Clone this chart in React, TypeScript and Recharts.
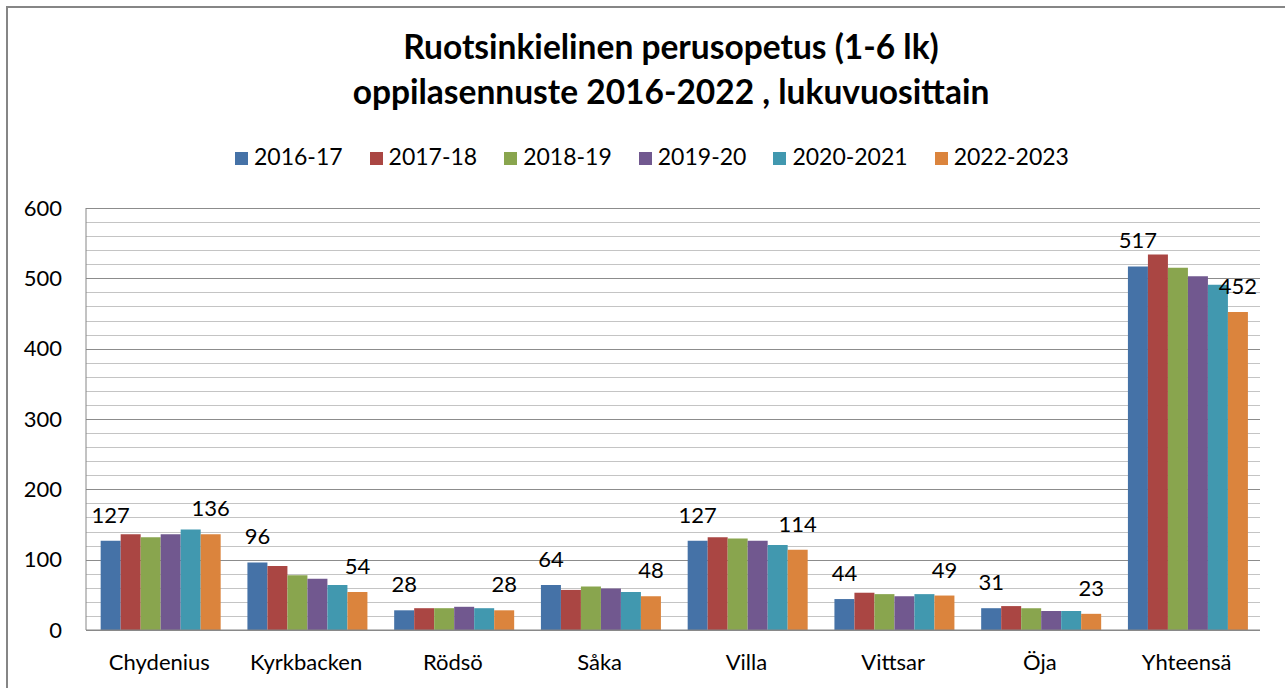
import { BarChart, Bar, XAxis, YAxis, CartesianGrid, Legend, LabelList } from "recharts"

const schools = ["Chydenius", "Kyrkbacken", "Rödsö", "Såka", "Villa", "Vittsar", "Öja", "Yhteensä"]
const y2016 = [127, 96, 28, 64, 127, 44, 31, 517]
const y2017 = [136, 91, 31, 57, 132, 53, 34, 534]
const y2018 = [132, 78, 31, 62, 130, 51, 31, 515]
const y2019 = [136, 73, 33, 59, 127, 48, 27, 503]
const y2020 = [143, 64, 31, 54, 121, 51, 27, 491]
const y2022 = [136, 54, 28, 48, 114, 49, 23, 452]
const seriesNames = ["2016-17", "2017-18", "2018-19", "2019-20", "2020-2021", "2022-2023"]
const yTicks = [0, 100, 200, 300, 400, 500, 600]

const colors = ["#4572A7", "#AA4643", "#89A54E", "#71588F", "#4198AF", "#DB843D"]
const font = "Lato, 'Open Sans', sans-serif"

// minor gridlines every 20, major ones on the tick values
const minorValues = Array.from({ length: 31 }, (_, i) => i * 20).filter((v) => v % 100 !== 0)

const data = schools.map((name, i) => ({
  name,
  s0: y2016[i],
  s1: y2017[i],
  s2: y2018[i],
  s3: y2019[i],
  s4: y2020[i],
  s5: y2022[i],
}))

// snap gridlines to the pixel grid so they stay crisp
const gridAt = (values: number[]) => (props: any) => {
  const { yAxis, offset } = props
  return values.map((v) => {
    const y =
      yAxis && typeof yAxis.scale === "function"
        ? yAxis.scale(v)
        : offset.top + offset.height * (1 - v / 600)
    return Math.round(y) + 0.5
  })
}

function LegendBox() {
  return (
    <div style={{ display: "flex", alignItems: "center", height: 30, fontFamily: font, fontSize: 23, color: "#000" }}>
      {seriesNames.map((n, i) => (
        <div key={n} style={{ display: "flex", alignItems: "center", marginRight: 27 }}>
          <span style={{ width: 13, height: 13, background: colors[i], marginRight: 6, marginTop: 4 }} />
          <span>{n}</span>
        </div>
      ))}
    </div>
  )
}

export default function App() {
  return (
    <div
      style={{
        position: "fixed",
        left: 0,
        top: 0,
        width: 1285,
        height: 688,
        overflow: "hidden",
        background: "#fff",
        fontFamily: font,
      }}
    >
      <div
        style={{
          position: "absolute",
          left: 6,
          top: 6,
          width: 1340,
          height: 720,
          border: "2px solid #868686",
        }}
      />
      <div
        style={{
          position: "absolute",
          left: 171,
          top: 24,
          width: 1000,
          textAlign: "center",
          fontWeight: "bold",
          fontSize: 33.5,
          lineHeight: "45px",
          color: "#000",
        }}
      >
        <div>Ruotsinkielinen perusopetus (1-6 lk)</div>
        <div>oppilasennuste 2016-2022 , lukuvuosittain</div>
      </div>
      <div style={{ position: "absolute", left: 0, top: 0 }}>
        <BarChart
          width={1285}
          height={688}
          data={data}
          margin={{ top: 208, right: 25, bottom: 0, left: 26 }}
          barCategoryGap="10%"
          barGap={0}
        >
          <CartesianGrid
            vertical={false}
            horizontalCoordinatesGenerator={gridAt(minorValues)}
            stroke="#C4C4C4"
          />
          <CartesianGrid
            vertical={false}
            horizontalCoordinatesGenerator={gridAt(yTicks)}
            stroke="#8C8C8C"
          />
          <XAxis
            dataKey="name"
            height={58}
            tickSize={0}
            tickMargin={24}
            axisLine={{ stroke: "#868686" }}
            tick={{ fontSize: 22, fill: "#000", fontFamily: font }}
            interval={0}
          />
          <YAxis
            width={60}
            domain={[0, 600]}
            ticks={yTicks}
            tickSize={0}
            tickMargin={24}
            axisLine={{ stroke: "#868686" }}
            tick={{ fontSize: 22, fill: "#000", fontFamily: font }}
          />
          <Legend
            layout="horizontal"
            verticalAlign="middle"
            align="center"
            content={<LegendBox />}
            wrapperStyle={{ left: 235, top: 141, width: "auto" }}
          />
          {["s0", "s1", "s2", "s3", "s4", "s5"].map((k, i) => (
            <Bar key={k} dataKey={k} name={seriesNames[i]} fill={colors[i]} isAnimationActive={false}>
              {(i === 0 || i === 5) && (
                <LabelList
                  dataKey={k}
                  position="top"
                  offset={18}
                  style={{ fontSize: 22, fill: "#000", fontFamily: font }}
                />
              )}
            </Bar>
          ))}
        </BarChart>
      </div>
    </div>
  )
}
